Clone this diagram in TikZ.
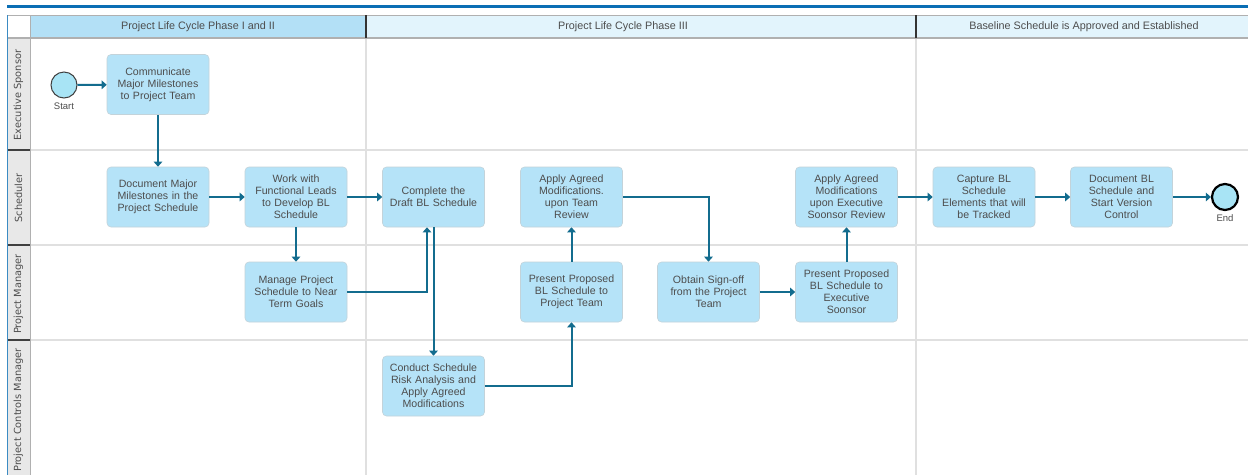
\documentclass[tikz,border=0pt]{standalone}
\usepackage{fontspec}
\setmainfont{Liberation Sans}
\newfontfamily\lanefont{DejaVu Sans}
\usetikzlibrary{arrows.meta}
\definecolor{topblue}{HTML}{0A6EB4}
\definecolor{hdrA}{HTML}{B3E0F6}
\definecolor{hdrB}{HTML}{E2F4FC}
\definecolor{nodefill}{HTML}{B5E3F8}
\definecolor{nodeline}{HTML}{C3D3DA}
\definecolor{flowc}{HTML}{136C8E}
\definecolor{gridc}{HTML}{E0E0E0}
\definecolor{lanefill}{HTML}{E8E8E8}
\definecolor{txt}{HTML}{4D4D4D}
\definecolor{hdrline}{HTML}{B0B0B0}
\definecolor{evfill}{HTML}{A8E4F5}
\tikzset{
  task/.style={draw=nodeline, line width=0.6pt, fill=nodefill, rounded corners=4pt,
    minimum width=102pt, minimum height=60pt, text width=100pt, align=center,
    inner sep=0pt, text=txt, font=\fontsize{10.6}{12}\selectfont},
  event/.style={circle, fill=evfill, minimum size=26pt, inner sep=0pt},
  evlabel/.style={text=txt, font=\fontsize{9.5}{11}\selectfont, inner sep=0pt},
  flow/.style={draw=flowc, line width=2pt, -{Triangle[length=5pt,width=8.5pt]}},
  hdrtext/.style={text=txt, font=\fontsize{10.8}{12}\selectfont, inner sep=0pt},
  lanetext/.style={rotate=90, text=txt, font=\lanefont\fontsize{9.8}{11}\selectfont, inner sep=0pt},
  gridline/.style={draw=gridc, line width=2pt}
}
\begin{document}
\begin{tikzpicture}[x=1pt, y=-1pt]
\useasboundingbox (0,0) rectangle (1248,475);
\fill[white] (0,0) rectangle (1248,475);
% top blue bar
\draw[topblue, line width=3pt] (7,6) -- (1248,6);
% lane label column
\fill[lanefill] (7,38) rectangle (30,475);
% grid lines
\foreach \yy in {150,245,340} {\draw[gridline] (30,\yy) -- (1248,\yy);}
\foreach \xx in {366,916} {\draw[gridline] (\xx,38) -- (\xx,475);}
% header
\fill[white] (7,15) rectangle (30,38);
\fill[hdrA] (30,15) rectangle (366,38);
\fill[hdrB] (366,15) rectangle (1248,38);
\draw[hdrline, line width=0.8pt] (7,15) -- (1248,15);
\draw[hdrline, line width=1.2pt] (7,38) -- (1248,38);
\draw[hdrline, line width=0.8pt] (30,15) -- (30,38);
\draw[black!80, line width=1.8pt] (366,15) -- (366,38);
\draw[black!80, line width=1.8pt] (916,15) -- (916,38);
% lane separators in label column
\foreach \yy in {150,245,340} {\draw[black!75, line width=1.5pt] (7,\yy) -- (30,\yy);}
\draw[hdrline, line width=0.8pt] (30,38) -- (30,475);
\draw[topblue!80, line width=0.9pt] (7,15) -- (7,475);
% header texts
\node[hdrtext] (h1) at (198,26.5) {Project Life Cycle Phase I and II};
\node[hdrtext] (h2) at (623,26.5) {Project Life Cycle Phase III};
\node[hdrtext] (h3) at (1084,26.5) {Baseline Schedule is Approved and Established};
% lane texts
\node[lanetext] (l1) at (18.5,95) {Executive Sponsor};
\node[lanetext] (l2) at (18.5,198) {Scheduler};
\node[lanetext] (l3) at (18.5,294) {Project Manager};
\node[lanetext] (l4) at (18.5,410) {Project Controls Manager};
% events
\node[event, draw=black!75, line width=1pt] (start) at (64,85) {};
\node[evlabel] (startlbl) at (64,106.5) {Start};
\node[event, draw=black, line width=2.2pt] (end) at (1225,197) {};
\node[evlabel] (endlbl) at (1225,218) {End};
% tasks
\node[task] (comm) at (158,84.5) {Communicate\\Major Milestones\\to Project Team};
\node[task] (docmaj) at (158,197) {Document Major\\Milestones in the\\Project Schedule};
\node[task] (work) at (296,197) {Work with\\Functional Leads\\to Develop BL\\Schedule};
\node[task] (manage) at (296,292) {Manage Project\\Schedule to Near\\Term Goals};
\node[task] (complete) at (433.5,197) {Complete the\\Draft BL Schedule};
\node[task] (conduct) at (433.5,386) {Conduct Schedule\\Risk Analysis and\\Apply Agreed\\Modifications};
\node[task] (applyteam) at (571.5,197) {Apply Agreed\\Modifications.\\upon Team\\Review};
\node[task] (presteam) at (571.5,292) {Present Proposed\\BL Schedule to\\Project Team};
\node[task] (obtain) at (708.5,292) {Obtain Sign-off\\from the Project\\Team};
\node[task] (applyexec) at (846.5,197) {Apply Agreed\\Modifications\\upon Executive\\Soonsor Review};
\node[task] (presexec) at (846.5,292) {Present Proposed\\BL Schedule to\\Executive\\Soonsor};
\node[task] (capture) at (984,197) {Capture BL\\Schedule\\Elements that will\\be Tracked};
\node[task] (docbl) at (1121.5,197) {Document BL\\Schedule and\\Start Version\\Control};
% connectors
\draw[flow] (start) -- (comm);
\draw[flow] (comm) -- (docmaj);
\draw[flow] (docmaj) -- (work);
\draw[flow] (work) -- (complete);
\draw[flow] (work) -- (manage);
\draw[flow] (manage.east) -| ([xshift=-6.5pt]complete.south);
\draw[flow] (complete.south) -- (conduct.north);
\draw[flow] (conduct.east) -| (presteam.south);
\draw[flow] (presteam) -- (applyteam);
\draw[flow] (applyteam.east) -| (obtain.north);
\draw[flow] (obtain) -- (presexec);
\draw[flow] (presexec) -- (applyexec);
\draw[flow] (applyexec) -- (capture);
\draw[flow] (capture) -- (docbl);
\draw[flow] (docbl) -- (end);
\end{tikzpicture}
\end{document}
